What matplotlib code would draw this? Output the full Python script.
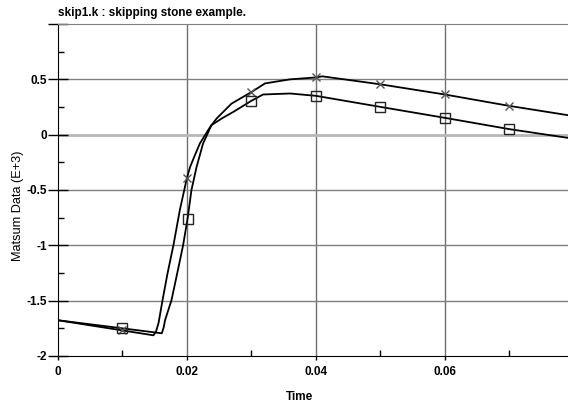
import matplotlib
matplotlib.use("Agg")
import matplotlib.pyplot as plt
import numpy as np

title = "skip1.k : skipping stone example."
xlabel = "Time"
ylabel = "Matsum Data (E+3)"

# Series A (x markers)
tA = [0.0, 0.0100, 0.0148, 0.0152, 0.0156, 0.0162, 0.0170, 0.0179, 0.0189, 0.0200, 0.0205,
      0.0212, 0.0220, 0.0236, 0.0246, 0.0269, 0.0300, 0.0321, 0.0360, 0.0400, 0.0410,
      0.0500, 0.0600, 0.0700, 0.0791]
vA = [-1.677, -1.769, -1.813, -1.78, -1.70, -1.50, -1.25, -1.00, -0.68, -0.39, -0.29,
      -0.19, -0.08, 0.07, 0.146, 0.28, 0.385, 0.463, 0.50, 0.517, 0.527,
      0.455, 0.363, 0.26, 0.176]

# Series B (square markers)
tB = [0.0, 0.0100, 0.0161, 0.0164, 0.0166, 0.0176, 0.0187, 0.0194, 0.0201, 0.0207, 0.0215,
      0.0225, 0.0238, 0.0255, 0.0272, 0.0300, 0.0318, 0.0360, 0.0400, 0.0500,
      0.0600, 0.0700, 0.0791]
vB = [-1.677, -1.750, -1.795, -1.74, -1.677, -1.496, -1.195, -1.00, -0.758, -0.50, -0.29,
      -0.08, 0.086, 0.15, 0.206, 0.306, 0.363, 0.372, 0.351, 0.251,
      0.152, 0.05, -0.029]

marker_times = [0.01, 0.02, 0.03, 0.04, 0.05, 0.06, 0.07]

xticks = [0.0, 0.02, 0.04, 0.06]
xticklabels = ["0", "0.02", "0.04", "0.06"]
yticks = [-2.0, -1.5, -1.0, -0.5, 0.0, 0.5, 1.0]
yticklabels = ["-2", "-1.5", "-1", "-0.5", "0", "0.5", ""]

plt.rcParams['font.family'] = ['Liberation Sans', 'DejaVu Sans']

fig = plt.figure(figsize=(5.68, 4.05), dpi=100)
ax = fig.add_axes([58/568, 1-356/405, 510/568, (356-24)/405])

def mark_idx(ts):
    return [int(np.argmin(np.abs(np.array(ts) - m))) for m in marker_times]

ax.plot(tA, vA, color='black', lw=1.3, zorder=3)
ax.plot(np.array(tA)[mark_idx(tA)], np.array(vA)[mark_idx(tA)], ls='none', marker='x',
        ms=6, mew=1.0, color='#555555', zorder=4)
ax.plot(tB, vB, color='black', lw=1.3, zorder=3)
ax.plot(np.array(tB)[mark_idx(tB)], np.array(vB)[mark_idx(tB)], ls='none', marker='s',
        ms=7.5, mew=1.0, mfc='none', mec='#222222', zorder=4)

ax.set_xlim(0, 0.0791)
ax.set_ylim(-2, 1.0)

for x in xticks[1:]:
    ax.axvline(x, color='#707070', lw=1.0, zorder=1)
for y in yticks[1:-1]:
    if y == 0:
        ax.axhline(y, color='#b8b8b8', lw=2.0, zorder=1)
    else:
        ax.axhline(y, color='#808080', lw=1.0, zorder=1)

ax.set_xticks(xticks)
ax.set_xticklabels(xticklabels, fontweight='bold', fontsize=8.5)
ax.set_yticks(yticks)
ax.set_yticklabels(yticklabels, fontweight='bold', fontsize=8.5)
ax.set_xticks([0.01, 0.03, 0.05, 0.07], minor=True)
ax.set_yticks([-1.75, -1.25, -0.75, -0.25, 0.25, 0.75], minor=True)

ax.tick_params(axis='x', which='major', direction='out', length=3, width=1, pad=4)
ax.tick_params(axis='x', which='minor', direction='in', length=4, width=1)
ax.tick_params(axis='y', which='major', direction='inout', length=14, width=1, pad=1)
ax.tick_params(axis='y', which='minor', direction='in', length=4, width=1)
ax.tick_params(which='both', color='black')

ax.spines['right'].set_visible(False)
ax.spines['top'].set_color('#808080')
ax.spines['left'].set_color('black')
ax.spines['bottom'].set_color('black')

ax.set_xlabel(xlabel, fontweight='bold', fontsize=8.5)
ax.xaxis.set_label_coords((300-58)/510, -(397-356)/332)
ax.xaxis.label.set_va('center')
ax.set_ylabel(ylabel, fontsize=9.2)
ax.yaxis.set_label_coords(-(58-18)/510, (356-206)/332)
ax.yaxis.label.set_va('center')

fig.text(58/568, 1-13/405, title, fontweight='bold', fontsize=8.5, ha='left', va='center')

fig.savefig("out.png", dpi=100)
